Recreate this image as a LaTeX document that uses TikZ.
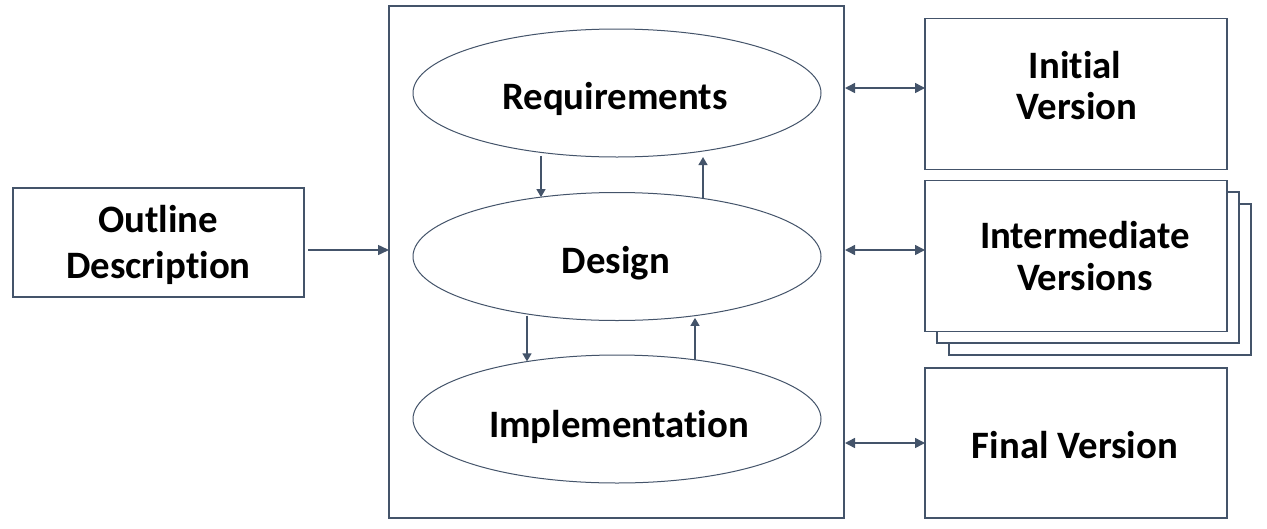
\documentclass[tikz,border=0pt]{standalone}
\usepackage{fontspec}
\setmainfont{Carlito}[Ligatures={NoCommon}]
\usetikzlibrary{shapes.geometric,arrows.meta}
\definecolor{ln}{RGB}{68,84,106}
\tikzset{
  boxshape/.style={draw=ln,line width=1.2pt,fill=white,rectangle,inner sep=0pt,outer sep=0pt},
  ovalshape/.style={draw=ln,line width=1pt,fill=white,ellipse,inner sep=0pt,outer sep=0pt,minimum width=408pt,minimum height=128pt},
  lbl/.style={font=\fontsize{38.8}{46}\selectfont\bfseries,text=black,anchor=base,inner sep=0pt},
  harr/.style={draw=ln,line width=1.5pt,-{Triangle[length=11pt,width=10pt]}},
  darr/.style={draw=ln,line width=1.5pt,{Triangle[length=10pt,width=10pt]}-{Triangle[length=10pt,width=10pt]}},
  varr/.style={draw=ln,line width=1.4pt,-{Triangle[length=8pt,width=9pt]}}
}
\begin{document}
\begin{tikzpicture}[x=1pt,y=-1pt]
\useasboundingbox (0,0) rectangle (1267,528);
% boxes
\node[boxshape,minimum width=291pt,minimum height=109pt] (outline) at (158.5,242.5) {};
\node[boxshape,minimum width=455pt,minimum height=512pt] (big) at (616.5,262) {};
\node[ovalshape] (req) at (617,93) {};
\node[ovalshape] (des) at (617,256.5) {};
\node[ovalshape] (imp) at (617,419) {};
\node[boxshape,minimum width=302pt,minimum height=151pt] (init) at (1076,94) {};
\node[boxshape,minimum width=302pt,minimum height=151pt] (inter3) at (1100,279.5) {};
\node[boxshape,minimum width=302pt,minimum height=151pt] (inter2) at (1088,267.5) {};
\node[boxshape,minimum width=302pt,minimum height=151pt] (inter) at (1076,256) {};
\node[boxshape,minimum width=302pt,minimum height=150pt] (final) at (1076,443) {};
% labels
\node[lbl] (t1) at (158,232) {Outline};
\node[lbl] (t2) at (158.5,278) {Description};
\node[lbl] (t3) at (615,109) {Requirements};
\node[lbl] (t4) at (616,273) {Design};
\node[lbl] (t5) at (619,437) {Implementation};
\node[lbl] (t6) at (1075,78) {Initial};
\node[lbl] (t7) at (1077,119) {Version};
\node[lbl] (t8) at (1085,248) {Intermediate};
\node[lbl] (t9) at (1085,290) {Versions};
\node[lbl] (t10) at (1075,458) {Final Version};
% horizontal connectors
\path ([yshift=-7.5pt]outline.east) coordinate (o1);
\draw[harr] ([xshift=4pt]o1) -- (o1 -| big.west);
\path ([yshift=6pt]init.west) coordinate (i1);
\draw[darr] ([xshift=1pt]i1 -| big.east) -- (i1);
\path ([yshift=6pt]inter.west) coordinate (i2);
\draw[darr] ([xshift=1pt]i2 -| big.east) -- (i2);
\path (final.west) coordinate (i3);
\draw[darr] ([xshift=1pt]i3 -| big.east) -- (i3);
% vertical connectors
\path ([xshift=-76pt]des.center) coordinate (x1);
\path ([xshift=86pt]des.center) coordinate (x2);
\path ([xshift=-90pt]des.center) coordinate (x3);
\path ([xshift=78pt]des.center) coordinate (x4);
\draw[varr,shorten <=4pt] (x1 |- req.218) -- (x1 |- des.142);
\draw[varr,shorten >=6pt] (x2 |- des.34) -- (x2 |- req.326);
\draw[varr,shorten <=2pt] (x3 |- des.212.5) -- (x3 |- imp.147.5);
\draw[varr,shorten >=2pt] (x4 |- imp.37.2) -- (x4 |- des.322.8);
\end{tikzpicture}
\end{document}
